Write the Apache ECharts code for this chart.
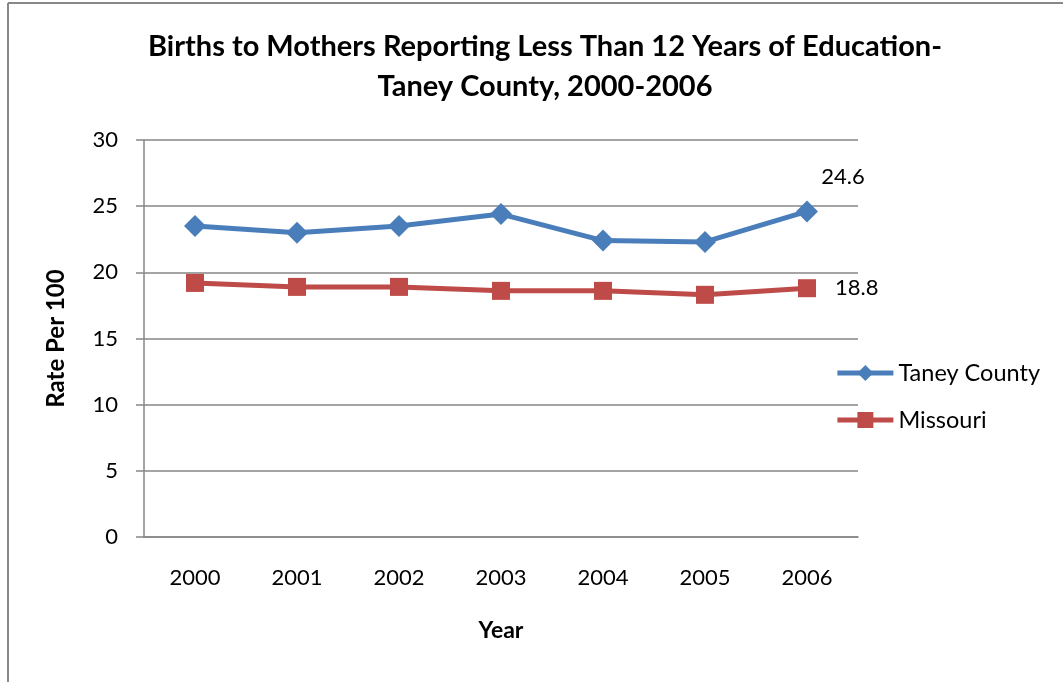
<!DOCTYPE html>
<html><head><meta charset="utf-8">
<script src="https://cdn.jsdelivr.net/npm/echarts@6/dist/echarts.min.js"></script>
<style>html,body{margin:0;padding:0;background:#fff}#c{width:1063px;height:682px}</style>
</head><body><div id="c"></div>
<script>
const years = ['2000','2001','2002','2003','2004','2005','2006'];
const taney = [23.5, 23.0, 23.5, 24.4, 22.4, 22.3, 24.6];
const missouri = [19.2, 18.9, 18.9, 18.6, 18.6, 18.3, 18.8];
const yTicks = [0, 5, 10, 15, 20, 25, 30];
const FONT = 'Lato, "Open Sans", sans-serif';
const chart = echarts.init(document.getElementById('c'), null, {renderer:'canvas'});
const lastLabel = (arr, pos, off) => arr.map((v,i)=> i===arr.length-1 ? {value:v, label:{show:true, position:pos, offset:off, formatter:'{c}', color:'#000', fontSize:22, fontFamily:FONT}} : v);
chart.setOption({
  animation:false,
  title:{text:'Births to Mothers Reporting Less Than 12 Years of Education-\nTaney County, 2000-2006', left:540, textAlign:'center', top:22,
    textStyle:{fontFamily:FONT, fontWeight:'bold', fontSize:29, lineHeight:40, color:'#000'}},
  grid:{left:144, right:205, top:140, bottom:145},
  legend:{right:18, top:356, orient:'vertical', itemGap:23, itemWidth:56, itemHeight:20,
    lineStyle:{width:5},
    textStyle:{fontFamily:FONT, fontSize:23.5, color:'#000'},
    data:['Taney County','Missouri']},
  xAxis:{type:'category', data:years, boundaryGap:true,
    name:'Year', nameLocation:'middle', nameGap:82,
    nameTextStyle:{fontFamily:FONT, fontWeight:'bold', fontSize:23, color:'#000'},
    axisLine:{lineStyle:{color:'#868686', width:1.5}}, axisTick:{show:false},
    axisLabel:{fontFamily:FONT, fontSize:22, color:'#000', margin:30}},
  yAxis:{type:'value', min:0, max:30, interval:5,
    name:'Rate Per 100', nameLocation:'middle', nameGap:76, nameRotate:90,
    nameTextStyle:{fontFamily:FONT, fontWeight:'bold', fontSize:24, color:'#000'},
    axisLine:{show:true, lineStyle:{color:'#868686', width:1.5}},
    axisTick:{show:true, length:8, lineStyle:{color:'#868686', width:1.5}},
    splitLine:{lineStyle:{color:'#868686', width:1.5}},
    axisLabel:{fontFamily:FONT, fontSize:22, color:'#000', margin:26}},
  series:[
    {name:'Taney County', type:'line', data:lastLabel(taney,'top',[36,-8]), symbol:'diamond', symbolSize:22,
      lineStyle:{color:'#4A7EBB', width:5}, itemStyle:{color:'#4A7EBB'}},
    {name:'Missouri', type:'line', data:lastLabel(missouri,'right',[14,0]), symbol:'rect', symbolSize:18,
      lineStyle:{color:'#BE4B48', width:5}, itemStyle:{color:'#BE4B48'}}
  ],
  graphic:[
    {type:'line', shape:{x1:8, y1:3, x2:1063, y2:3}, style:{stroke:'#888', lineWidth:2}},
    {type:'line', shape:{x1:8, y1:3, x2:8, y2:682}, style:{stroke:'#888', lineWidth:2}}
  ]
});
</script></body></html>
